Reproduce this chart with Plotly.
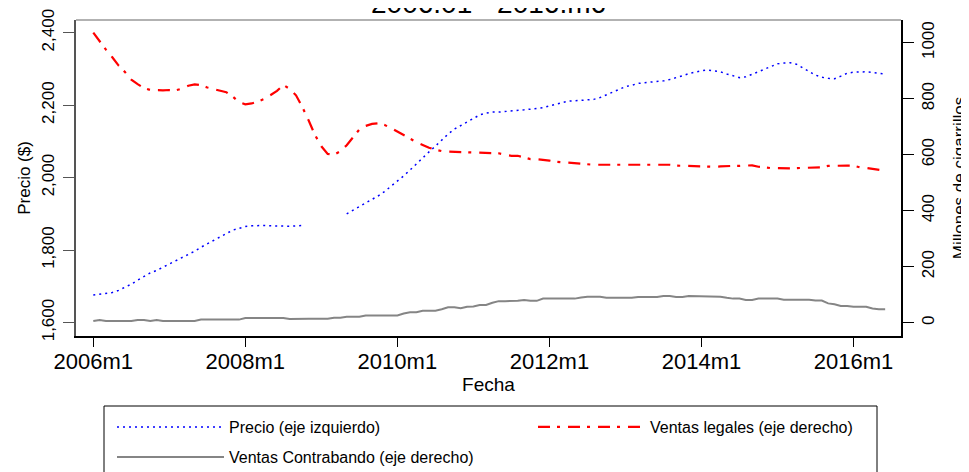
import plotly.graph_objects as go

# Months since 2006m1 (2006m1 .. 2016m6)
meses = list(range(126))

precio = [
    1676, 1678, 1681, 1683, 1689, 1697, 1706, 1717, 1728, 1737,
    1744, 1753, 1762, 1770, 1778, 1787, 1797, 1808, 1817, 1828,
    1836, 1846, 1855, 1860, 1865, 1867, 1868, 1868, 1867, 1866,
    1865, 1866, 1867, 1868, None, None, None, None, None, None,
    1900, 1910, 1920, 1928, 1938, 1950, 1962, 1976, 1989, 2005,
    2021, 2038, 2056, 2071, 2087, 2105, 2120, 2134, 2144, 2155,
    2165, 2173, 2178, 2181, 2181, 2182, 2184, 2184, 2187, 2189,
    2191, 2193, 2198, 2203, 2208, 2211, 2212, 2213, 2214, 2216,
    2221, 2228, 2236, 2243, 2251, 2255, 2260, 2262, 2263, 2264,
    2267, 2271, 2275, 2281, 2287, 2292, 2295, 2297, 2295, 2292,
    2286, 2280, 2276, 2278, 2285, 2292, 2298, 2306, 2314, 2316,
    2317, 2313, 2302, 2293, 2283, 2277, 2274, 2273, 2280, 2288,
    2291, 2292, 2292, 2290, 2287, 2286,
]

ventas_legales = [
    1036, 1005, 975, 948, 918, 895, 868, 852, 838, 831,
    830, 830, 831, 830, 836, 846, 851, 848, 840, 834,
    827, 823, 808, 788, 780, 783, 790, 799, 813, 828,
    849, 835, 812, 770, 722, 670, 630, 603, 600, 612,
    634, 661, 690, 703, 710, 712, 706, 695, 682, 669,
    656, 645, 635, 625, 618, 613, 611, 610, 609, 608,
    608, 608, 607, 606, 605, 600, 596, 596, 590, 584,
    584, 582, 579, 575, 573, 572, 569, 567, 565, 564,
    564, 564, 564, 564, 564, 564, 564, 564, 564, 564,
    564, 564, 561, 560, 560, 560, 558, 557, 557, 558,
    560, 560, 560, 561, 562, 557, 554, 552, 552, 551,
    551, 552, 553, 553, 553, 555, 560, 561, 561, 561,
    561, 555, 553, 549, 545, 543,
]

contrabando = [
    6, 10, 6, 6, 6, 6, 6, 10, 10, 6,
    10, 6, 6, 6, 6, 6, 6, 11, 11, 11,
    11, 11, 11, 11, 17, 17, 17, 17, 17, 17,
    17, 13, 14, 14, 14, 14, 14, 14, 18, 18,
    21, 21, 21, 26, 26, 26, 26, 26, 26, 33,
    37, 37, 43, 43, 43, 48, 55, 55, 52, 57,
    58, 63, 63, 71, 77, 77, 77, 78, 81, 78,
    78, 86, 86, 86, 86, 86, 86, 90, 93, 93,
    93, 89, 89, 89, 89, 89, 92, 92, 92, 92,
    95, 95, 92, 92, 95, 95, 95, 95, 95, 93,
    89, 86, 86, 81, 81, 86, 86, 86, 86, 82,
    82, 82, 82, 82, 79, 79, 69, 66, 60, 60,
    57, 57, 57, 51, 48, 48,
]

x_tick_pos = [0, 24, 48, 72, 96, 120]
x_tick_labels = ["2006m1", "2008m1", "2010m1", "2012m1", "2014m1", "2016m1"]
y_left_ticks = [1600, 1800, 2000, 2200, 2400]
y_right_ticks = [0, 200, 400, 600, 800, 1000]

FONT = "Liberation Sans, Arial, sans-serif"

fig = go.Figure()
fig.add_trace(go.Scatter(
    x=meses, y=precio, name="Precio (eje izquierdo)", mode="lines",
    line=dict(color="#0000ff", width=1.5, dash="2px,4px"),
    connectgaps=False, legend="legend",
))
fig.add_trace(go.Scatter(
    x=meses, y=ventas_legales, name="Ventas legales (eje derecho)", mode="lines",
    line=dict(color="#ff0000", width=2.2, dash="12px,7px,3px,8px"),
    yaxis="y2", legend="legend2",
))
fig.add_trace(go.Scatter(
    x=meses, y=contrabando, name="Ventas Contrabando (eje derecho)", mode="lines",
    line=dict(color="#858585", width=2),
    yaxis="y2", legend="legend3",
))

# page body adds an 8px offset; figure spans window px 8..969 / 8..472
OFF = 8
W, H = 961, 464
L, R, T, B = 68, 68, 12, 136
pw, ph = W - L - R, H - T - B


def wx(p):
    return (p - OFF - L) / pw


def wy(p):
    return (H - B - (p - OFF)) / ph


leg_common = dict(
    bgcolor="rgba(0,0,0,0)", borderwidth=0, itemwidth=107,
    font=dict(family=FONT, size=16, color="#000"),
    xanchor="left", yanchor="middle", orientation="v",
)

fig.update_layout(
    width=W, height=H,
    margin=dict(l=L, r=R, t=T, b=B, autoexpand=False),
    paper_bgcolor="white", plot_bgcolor="white",
    font=dict(family=FONT, color="#000"),
    xaxis=dict(
        range=[-2.73, 127.5], tickmode="array", tickvals=x_tick_pos, ticktext=x_tick_labels,
        showgrid=False, zeroline=False, showline=True, linecolor="#000", linewidth=2,
        ticks="outside", ticklen=9, tickwidth=1, tickcolor="#000", ticklabelstandoff=-4,
        tickfont=dict(size=22, family=FONT, color="#000"),
        title=dict(text="Fecha", font=dict(size=19, family=FONT, color="#000"), standoff=3),
    ),
    yaxis=dict(
        range=[1563, 2435], tickmode="array", tickvals=y_left_ticks, tickformat=",",
        showgrid=False, zeroline=False, showline=True, linecolor="#555", linewidth=2,
        ticks="outside", ticklen=11, tickwidth=1, tickcolor="#555", tickangle=-90,
        ticklabelstandoff=2,
        tickfont=dict(size=17, family=FONT, color="#000"),
        title=dict(text="Precio ($)", font=dict(size=17, family=FONT, color="#000"), standoff=4),
    ),
    yaxis2=dict(
        range=[-47.5, 1081], tickmode="array", tickvals=y_right_ticks,
        overlaying="y", side="right",
        showgrid=False, zeroline=False, showline=True, linecolor="#000", linewidth=2,
        ticks="outside", ticklen=11, tickwidth=1, tickcolor="#000", tickangle=-90,
        tickfont=dict(size=17, family=FONT, color="#000"),
        title=dict(text="Millones de cigarrillos", font=dict(size=17, family=FONT, color="#000"), standoff=18),
    ),
    legend=dict(x=wx(112), y=wy(427), **leg_common),
    legend2=dict(x=wx(533), y=wy(427), **leg_common),
    legend3=dict(x=wx(112), y=wy(457), **leg_common),
    showlegend=True,
    shapes=[
        dict(type="line", xref="paper", yref="paper", x0=0, x1=1, y0=1, y1=1,
             line=dict(color="#999", width=1.5)),
        dict(type="rect", xref="paper", yref="paper",
             x0=wx(104), x1=wx(877), y0=wy(482), y1=wy(406),
             line=dict(color="#000", width=1), fillcolor="rgba(0,0,0,0)"),
    ],
    annotations=[
        dict(text="2006.01 - 2016.m6", xref="paper", yref="paper", x=0.5, y=wy(4),
             xanchor="center", yanchor="middle", showarrow=False,
             font=dict(size=28, family=FONT, color="#000")),
    ],
)

fig.write_html("out.html")
